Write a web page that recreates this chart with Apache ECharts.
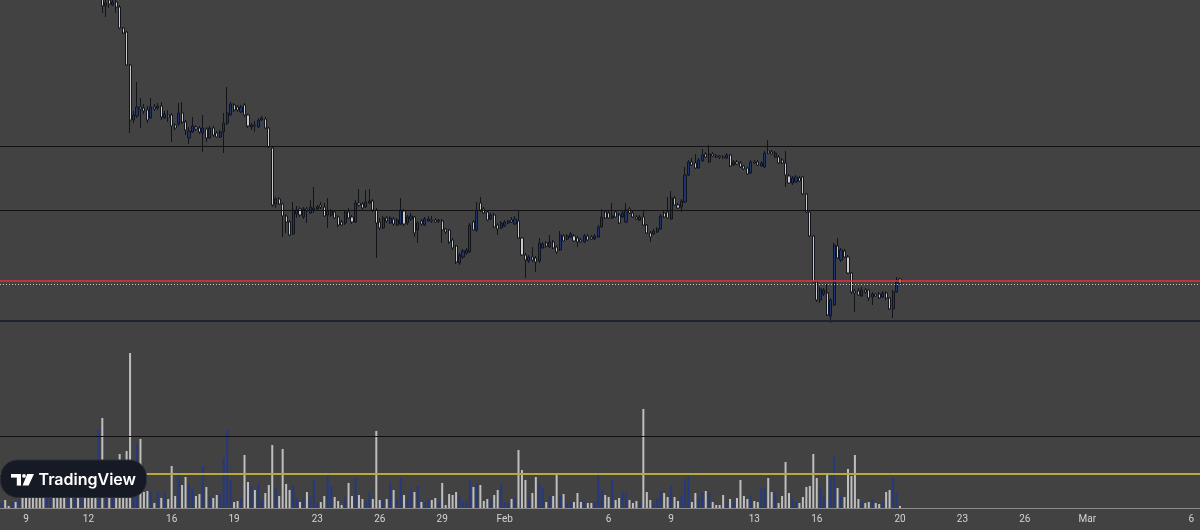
<!DOCTYPE html>
<html>
<head>
<meta charset="utf-8">
<script src="https://cdn.jsdelivr.net/npm/echarts@6/dist/echarts.min.js"></script>
<style>
html,body{margin:0;padding:0;background:#424242;}
#chart{width:1200px;height:530px;}
</style>
</head>
<body>
<div id="chart"></div>
<script>
// 4-hour candles, first slot 2023-01-07 20:00 UTC; price in arbitrary chart units (no price scale shown)
const slotCount = 346;
const startTime = Date.UTC(2023, 0, 7, 20);

const tickDates = ['2023-01-09','2023-01-12','2023-01-16','2023-01-19','2023-01-23','2023-01-26','2023-01-29','2023-02-01','2023-02-06','2023-02-09','2023-02-13','2023-02-16','2023-02-20','2023-02-23','2023-02-26','2023-03-01','2023-03-06'];
const tickLabels = ['9','12','16','19','23','26','29','Feb','6','9','13','16','20','23','26','Mar','6'];

const opens = [
555,560,557,554,558,553,559,556,552,549,
545,542,540,538,543,548,545,543,541,539,
544,541,545,542,546,543,541,539,538,534,
524,530,525,528,523,502,498,465,410,414,
423,422,420,412,423,422,424,412,415,415,
405,406,417,408,392,398,403,402,397,401,
392,402,397,393,398,407,415,425,423,418,
425,415,403,405,403,410,411,402,382,326,
331,326,314,308,296,316,321,313,321,317,
320,321,325,323,315,315,318,313,308,307,
318,313,308,327,326,323,327,329,320,308,
302,312,307,311,305,306,319,307,311,313,
300,309,305,309,310,310,309,309,301,300,
290,284,267,273,277,278,308,300,327,321,
318,311,315,305,302,304,307,310,306,309,
292,275,269,273,272,269,282,287,283,288,
283,280,294,291,293,294,292,290,288,294,
293,291,293,303,318,317,312,318,315,313,
308,321,317,313,310,313,305,297,296,298,
301,317,318,311,332,325,323,328,355,368,
367,362,369,376,368,376,374,374,373,372,
375,365,368,367,364,362,357,368,368,364,
363,379,378,373,373,370,367,354,347,348,
352,353,336,318,294,248,230,236,237,214,
225,284,270,279,273,257,239,239,234,240,
240,233,236,236,233,237,232,221,238,251
];
const closes = [
560,557,554,558,553,559,556,552,549,545,
542,540,538,543,548,545,543,541,539,544,
541,545,542,546,543,541,539,538,541,524,
527,526,528,523,502,497,465,410,415,423,
421,419,410,423,421,424,413,416,413,404,
402,417,408,400,399,404,401,398,402,392,
402,395,393,398,407,417,426,420,420,423,
415,404,405,404,410,412,402,383,325,331,
326,314,308,295,320,320,315,321,319,323,
322,323,323,314,319,319,312,305,305,318,
312,308,327,325,322,328,329,320,307,302,
312,309,312,306,310,320,306,313,314,297,
307,306,311,311,309,308,310,300,298,288,
282,268,275,279,280,305,300,320,320,317,
310,315,303,301,307,308,309,308,311,292,
275,270,273,270,268,287,286,284,288,282,
278,295,289,294,296,289,288,288,294,290,
291,294,303,313,312,312,314,313,307,317,
320,317,313,311,313,305,297,293,299,301,
314,313,312,332,325,322,329,355,368,365,
362,370,375,373,376,374,373,373,372,375,
364,368,366,363,361,356,368,367,365,367,
377,377,376,377,367,367,355,347,352,353,
349,336,318,294,248,230,241,240,215,230,
285,272,280,273,257,238,237,235,240,238,
232,236,234,232,237,232,221,238,248,247
];
const lows = [
553,555,552,552,551,551,554,550,547,543,
540,538,536,537,541,543,541,539,537,538,
539,540,540,541,541,539,537,536,532,517,
513,522,524,517,501,496,464,397,407,412,
402,416,407,411,419,420,410,411,408,388,
400,404,406,395,386,397,399,396,378,388,
391,393,392,392,377,405,414,418,418,417,
413,402,400,398,402,409,401,382,323,322,
325,293,297,294,295,312,313,311,307,316,
317,319,321,313,302,313,311,303,304,305,
311,306,307,323,320,322,326,318,272,300,
301,307,306,304,304,305,304,305,309,293,
287,304,304,308,307,307,307,287,296,286,
280,266,265,271,275,277,299,298,318,316,
309,310,302,295,301,303,306,307,305,291,
274,252,267,268,258,267,281,282,282,281,
276,279,288,290,292,288,283,287,287,289,
290,290,292,302,311,311,311,312,306,312,
307,316,312,310,309,304,296,288,295,297,
300,312,311,310,324,321,318,327,354,364,
361,361,368,372,367,373,372,371,371,371,
363,364,365,362,360,355,356,366,364,363,
362,376,375,372,366,366,343,346,345,347,
348,335,317,293,247,228,227,234,214,207,
224,271,268,272,256,236,218,234,233,236,
229,225,233,231,232,230,220,212,237,246
];
const highs = [
563,562,559,560,560,561,561,558,554,551,
547,544,542,545,550,550,547,545,543,546,
546,547,547,548,548,545,543,541,543,538,
532,533,533,530,525,503,499,466,419,448,
432,426,424,432,426,427,428,419,420,417,
407,427,428,410,403,413,405,404,415,403,
404,404,399,400,417,443,428,427,425,425,
427,416,407,409,412,414,413,403,383,333,
333,327,316,310,328,324,323,323,323,330,
343,325,328,327,332,321,320,315,310,320,
322,315,330,341,328,340,341,331,322,312,
314,314,314,313,312,332,321,315,317,314,
309,311,313,314,314,312,311,311,302,301,
292,285,277,281,282,307,310,328,333,323,
320,317,317,307,309,310,310,313,314,320,
293,277,275,283,274,292,288,289,295,290,
285,299,296,296,298,296,294,292,296,296,
295,296,305,321,320,319,327,320,317,319,
327,323,319,315,315,320,306,299,301,303,
316,319,333,339,334,327,331,363,370,372,
376,372,381,378,385,378,376,375,375,377,
376,370,370,369,365,363,370,370,370,369,
379,390,380,379,375,372,379,356,354,355,
354,354,337,319,295,249,243,242,246,232,
287,292,282,281,275,258,241,242,243,242,
241,238,237,238,239,239,233,240,253,252
];
const volumes = [
6,8,2,6,6,8,20,28,22,35,
18,25,30,15,22,40,26,19,33,24,
17,29,21,36,27,16,31,23,78,90,
30,25,35,28,54,40,57,155,35,65,
69,16,17,17,5,16,10,16,9,42,
12,36,23,31,23,20,12,14,42,21,
11,10,13,14,50,78,28,6,7,10,
53,26,22,18,24,8,15,23,63,20,
12,59,24,18,22,11,6,10,16,11,
28,5,6,12,35,22,11,7,3,11,
25,12,30,13,9,6,16,9,77,8,
8,9,25,18,9,30,13,9,18,16,
22,6,6,9,8,10,6,25,3,14,
13,16,13,6,7,28,21,25,23,7,
9,8,13,18,25,6,5,9,11,58,
38,28,9,15,31,25,20,6,12,12,
33,13,14,5,6,6,15,6,6,5,
5,6,34,18,13,11,28,8,10,17,
15,8,5,7,6,99,16,8,5,10,
17,15,11,22,11,7,13,29,35,6,
15,10,15,17,15,6,3,3,13,5,
9,6,10,28,12,9,13,7,6,20,
20,30,16,15,5,12,46,15,10,6,
5,11,21,22,54,30,21,11,33,33,
53,20,13,11,39,32,53,9,6,5,
6,9,5,4,6,16,18,30,15,2
];

// horizontal drawings (price units / volume units)
const levelBlackUpper = 384;
const levelBlackLower = 320;
const levelRed = 249.5;
const levelLastPrice = 246;
const levelNavy = 209;
const volLevelBlack = 72;
const volLevelYellow = 34;

const UP = '#1f3470', DOWN = '#c9c9c9', EDGE = '#11141b';
const VOL_UP = '#26397c', VOL_DOWN = '#bebebe';

const categories = [];
for (let i = 0; i < slotCount; i++) {
  const d = new Date(startTime + i * 4 * 3600 * 1000);
  categories.push(d.toISOString().slice(0, 16));
}
const labelAt = {};
tickDates.forEach((d, k) => {
  const idx = Math.round((Date.parse(d + 'T00:00:00Z') - startTime) / (4 * 3600 * 1000));
  labelAt[idx] = tickLabels[k];
});

const candleData = opens.map((o, i) => [o, closes[i], lows[i], highs[i]]);
const volData = volumes.map((v, i) => ({
  value: v,
  itemStyle: {color: closes[i] >= opens[i] ? VOL_UP : VOL_DOWN}
}));

function hLine(value, color, width, type, xi, yi, z) {
  return {
    type: 'line', xAxisIndex: xi, yAxisIndex: yi, data: [], z: z, silent: true,
    markLine: {
      silent: true, symbol: 'none', label: {show: false}, animation: false,
      lineStyle: {color: color, width: width, type: type},
      emphasis: {disabled: true},
      data: [{yAxis: value}]
    }
  };
}

const chart = echarts.init(document.getElementById('chart'), null, {renderer: 'canvas'});
chart.setOption({
  backgroundColor: '#424242',
  animation: false,
  grid: [
    {left: -2, right: -1.7, top: 0, height: 530},
    {left: -2, right: -1.7, top: 0, height: 508}
  ],
  xAxis: [
    {type: 'category', data: categories, gridIndex: 0, show: false, boundaryGap: true},
    {type: 'category', data: categories, gridIndex: 1, boundaryGap: true,
      axisLine: {show: true, lineStyle: {color: '#8d8d8d', width: 1}},
      axisTick: {show: false},
      splitLine: {show: false},
      axisLabel: {
        interval: (idx) => labelAt[idx] !== undefined,
        formatter: (v, idx) => labelAt[idx] || '',
        color: '#d4d4d4', fontSize: 10, fontFamily: 'Roboto', margin: 6
      }
    }
  ],
  yAxis: [
    {type: 'value', gridIndex: 0, min: 0, max: 530, show: false, splitLine: {show: false}},
    {type: 'value', gridIndex: 1, min: 0, max: 508, show: false, splitLine: {show: false}}
  ],
  series: [
    {type: 'bar', xAxisIndex: 1, yAxisIndex: 1, data: volData, barWidth: 2, z: 2},
    hLine(volLevelBlack, '#111111', 1, 'solid', 1, 1, 4),
    hLine(volLevelYellow, '#b7a93c', 2, 'solid', 1, 1, 4),
    {
      type: 'candlestick', xAxisIndex: 0, yAxisIndex: 0, data: candleData, barWidth: 2.6, z: 3,
      itemStyle: {color: UP, color0: DOWN, borderColor: EDGE, borderColor0: EDGE, borderWidth: 1}
    },
    hLine(levelBlackUpper, '#121212', 1, 'solid', 0, 0, 5),
    hLine(levelBlackLower, '#121212', 1, 'solid', 0, 0, 5),
    hLine(levelRed, '#e8303a', 1.5, 'solid', 0, 0, 5),
    hLine(levelLastPrice, '#c8c8c8', 1, [1, 2], 0, 0, 5),
    hLine(levelNavy, '#1d2330', 2, 'solid', 0, 0, 5)
  ],
  graphic: [
    {type: 'rect', z: 100, shape: {x: 0.5, y: 460, width: 146, height: 37.5, r: 17},
      style: {fill: '#161a25', stroke: '#2b2f3a', lineWidth: 1}},
    {type: 'rect', z: 101, shape: {x: 11, y: 474, width: 10, height: 3.6}, style: {fill: '#ffffff'}},
    {type: 'rect', z: 101, shape: {x: 16.8, y: 474, width: 4.2, height: 11.6}, style: {fill: '#ffffff'}},
    {type: 'circle', z: 101, shape: {cx: 24, cy: 475.9, r: 1.9}, style: {fill: '#ffffff'}},
    {type: 'polygon', z: 101, shape: {points: [[27.2, 474], [34, 474], [28.6, 485.6], [22.6, 485.6]]}, style: {fill: '#ffffff'}},
    {type: 'text', z: 101, x: 38.5, y: 479.8,
      style: {text: 'TradingView', fill: '#ffffff', font: '600 16px Inter', verticalAlign: 'middle', align: 'left'}}
  ]
});
</script>
</body>
</html>
